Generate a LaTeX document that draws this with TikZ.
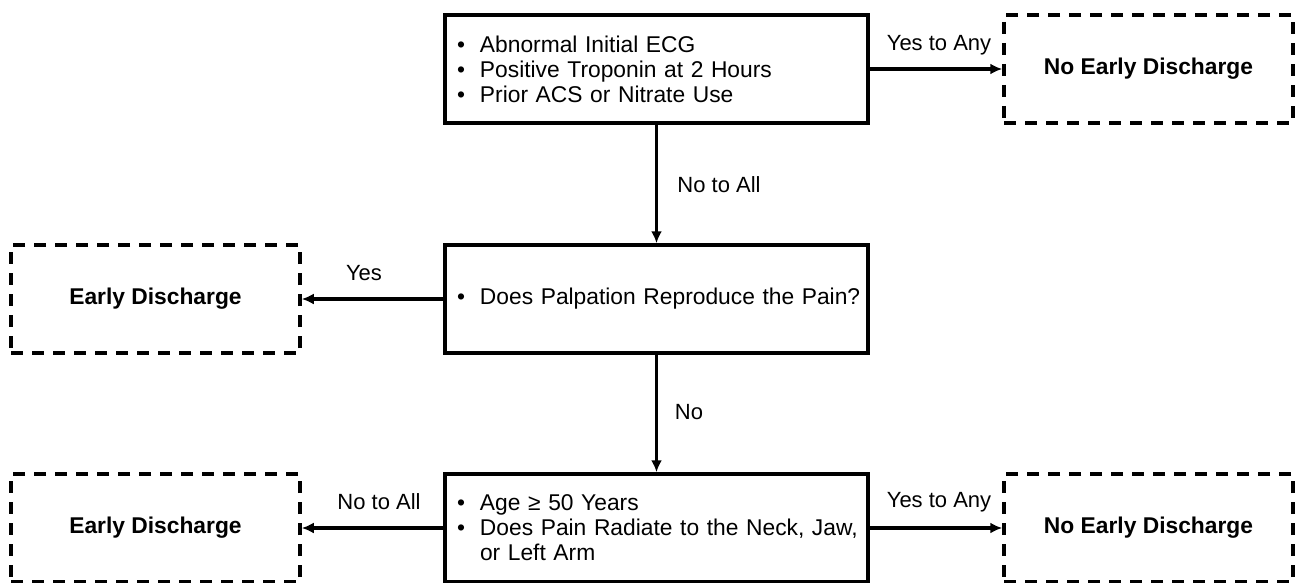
\documentclass[tikz,border=0pt]{standalone}
\usepackage{fontspec}
\setmainfont{Liberation Sans}
\usetikzlibrary{arrows.meta}
\newcommand{\bul}[1]{\hspace*{3pt}\makebox[23pt][l]{•}\mbox{#1}}
\newcommand{\bulind}[1]{\hspace*{26pt}\mbox{#1}}
\tikzset{
  solidbox/.style={draw=black, line width=3.5pt, rectangle, minimum width=423pt, minimum height=108pt,
    text width=405pt, inner xsep=9pt, align=left, font=\fontsize{22.8pt}{25pt}\selectfont},
  dashbox/.style={draw=black, line width=3.5pt, dash pattern=on 12pt off 9pt, rectangle,
    minimum width=289pt, minimum height=108pt, align=center, font=\fontsize{22.8pt}{25pt}\selectfont\bfseries},
  conn/.style={line width=3.5pt, -{Latex[length=12pt,width=11pt]}},
  lbl/.style={font=\fontsize{22pt}{25pt}\selectfont, inner sep=0pt}
}
\begin{document}
\begin{tikzpicture}[x=1pt,y=-1pt]
\useasboundingbox[fill=white] (0,0) rectangle (1300,583);
\node[solidbox] (q1) at (656.5,69) {\bul{Abnormal Initial ECG}\\ \bul{Positive Troponin at 2 Hours}\\ \bul{Prior ACS or Nitrate Use}};
\node[solidbox] (q2) at (656.5,299) {\bul{Does Palpation Reproduce the Pain?}};
\node[solidbox] (q3) at (656.5,528) {\bul{Age ≥ 50 Years}\\ \bul{Does Pain Radiate to the Neck, Jaw,}\\ \bulind{or Left Arm}};
\node[dashbox] (nd1) at (1148.5,69) {No Early Discharge};
\node[dashbox] (ed1) at (155.5,299) {Early Discharge};
\node[dashbox] (ed2) at (155.5,528) {Early Discharge};
\node[dashbox] (nd2) at (1148.5,528) {No Early Discharge};
\draw[conn] (q1.east) -- (nd1.west);
\draw[conn] (q1.south) -- (q2.north);
\draw[conn] (q2.west) -- (ed1.east);
\draw[conn] (q2.south) -- (q3.north);
\draw[conn] (q3.west) -- (ed2.east);
\draw[conn] (q3.east) -- (nd2.west);
\node[lbl] (l1) at (939,45) {Yes to Any};
\node[lbl] (l2) at (719,185) {No to All};
\node[lbl] (l3) at (364,273) {Yes};
\node[lbl] (l4) at (689,412) {No};
\node[lbl] (l5) at (379,502) {No to All};
\node[lbl] (l6) at (939,502) {Yes to Any};
\end{tikzpicture}
\end{document}
